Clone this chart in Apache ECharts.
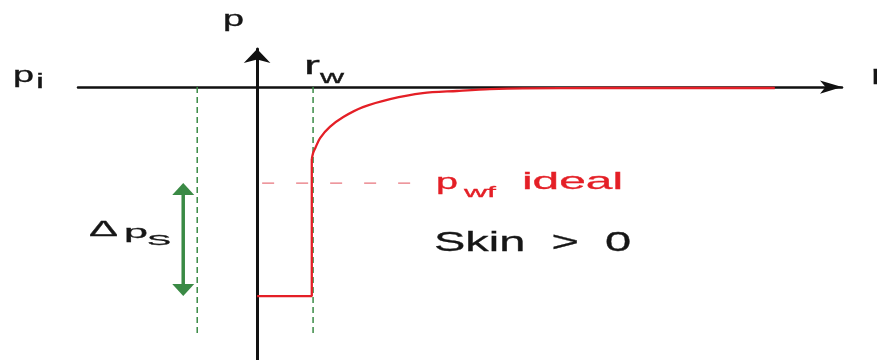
<!DOCTYPE html>
<html>
<head>
<meta charset="utf-8">
<script src="https://cdn.jsdelivr.net/npm/echarts@6/dist/echarts.min.js"></script>
<style>
  html, body { margin: 0; background: #fff; }
  #main { width: 877px; height: 360px; }
</style>
</head>
<body>
<div id="main"></div>
<script>
// r in units of rw, p given as p - pi
var stepR = [0, 0.977, 0.977];
var stepP = [-69.7, -69.7, -24];
var curveR = [0.977, 1.0, 1.04, 1.125, 1.30, 1.54, 1.89, 2.375, 2.96, 3.57, 4.16, 4.75, 6.1, 9.25];
var curveP = [-24, -22, -20.3, -17, -13.3, -10, -6.7, -4, -2, -1.3, -0.7, -0.4, -0.3, -0.3];
var pwfIdeal = -32;
var pwfSkin = -69.7;
var rw = 1;
var rOuter = -1.07;      // left green guide
var rArrow = -1.32;      // delta p skin arrow
var guideBottom = -82;
var idealLineR = [0.09, 3.09];

function zip(xs, ys) {
  return xs.map(function (x, i) { return [x, ys[i]]; });
}

var measure = document.createElement('canvas').getContext('2d');
function label(s, left, baseline, size, width, color) {
  var font = size + 'px "Liberation Sans", Arial, sans-serif';
  measure.font = font;
  var w = measure.measureText(s).width;
  color = color || '#161616';
  return {
    type: 'text', x: left, y: baseline - 0.35 * size, scaleX: width / w, silent: true, z: 10,
    style: { text: s, font: font, fill: color, stroke: color, lineWidth: 0.3,
      align: 'left', verticalAlign: 'middle' }
  };
}

var red = '#e41f26';
var green = '#3a8a45';

var myChart = echarts.init(document.getElementById('main'));

var option = {
  animation: false,
  backgroundColor: '#fff',
  grid: { left: 78, right: 35, top: 49, bottom: 0, outerBoundsMode: 'none' },
  xAxis: {
    type: 'value', min: -3.2, max: 10.45,
    axisLine: { onZero: true, symbol: ['none', 'arrow'], symbolSize: [10, 22],
      lineStyle: { color: '#111', width: 2.5 } },
    axisTick: { show: false }, axisLabel: { show: false }, splitLine: { show: false }
  },
  yAxis: {
    type: 'value', min: -91, max: 12.7,
    axisLine: { onZero: true, symbol: ['none', 'arrow'], symbolSize: [20, 14],
      lineStyle: { color: '#111', width: 3 } },
    axisTick: { show: false }, axisLabel: { show: false }, splitLine: { show: false }
  },
  series: [
    {
      type: 'line', symbol: 'none', silent: true,
      data: [[rOuter, 0], [rOuter, guideBottom]],
      lineStyle: { color: green, width: 1.5, type: [6, 4] }
    },
    {
      type: 'line', symbol: 'none', silent: true,
      data: [[rw, 0], [rw, guideBottom]],
      lineStyle: { color: green, width: 1.5, type: [6, 4] }
    },
    {
      type: 'line', symbol: 'none', silent: true,
      data: [[idealLineR[0], pwfIdeal], [idealLineR[1], pwfIdeal]],
      lineStyle: { color: '#e8757d', width: 1.2, type: [12, 22] }
    },
    {
      type: 'line', symbol: 'none', silent: true,
      data: zip(stepR, stepP),
      lineStyle: { color: red, width: 2.3 }
    },
    {
      type: 'line', symbol: 'none', silent: true, smooth: 0.3,
      data: zip(curveR, curveP),
      lineStyle: { color: red, width: 2.3 }
    },
    // delta p skin: shaft plus two heads whose tips sit on the two pressure levels
    {
      type: 'line', symbol: 'none', silent: true,
      data: [[rArrow, pwfIdeal - 2], [rArrow, pwfSkin + 2]],
      lineStyle: { color: green, width: 3.5 }
    },
    {
      type: 'scatter', silent: true, symbol: 'triangle', symbolSize: [22, 12],
      symbolOffset: [0, 6], itemStyle: { color: green, opacity: 1 },
      data: [[rArrow, pwfIdeal]]
    },
    {
      type: 'scatter', silent: true, symbol: 'triangle', symbolSize: [22, 12],
      symbolRotate: 180, symbolOffset: [0, -6], itemStyle: { color: green, opacity: 1 },
      data: [[rArrow, pwfSkin]]
    }
  ],
  graphic: [
    label('p', 223, 28, 22, 21),
    label('p', 13, 84, 22, 21),
    label('i', 36, 89, 20, 8),
    label('r', 304, 76, 25, 16),
    label('w', 320, 84, 18, 24),
    label('r', 871, 86, 28, 14),
    label('\u0394', 89, 238, 22, 29),
    label('p', 124, 239, 18, 24),
    label('S', 147, 246, 14, 24),
    label('p', 436, 191, 22, 22, red),
    label('wf', 464, 198, 15, 32, red),
    label('ideal', 522, 191, 24, 101, red),
    label('Skin  >  0', 434, 253, 28, 197)
  ]
};

myChart.setOption(option);
</script>
</body>
</html>
